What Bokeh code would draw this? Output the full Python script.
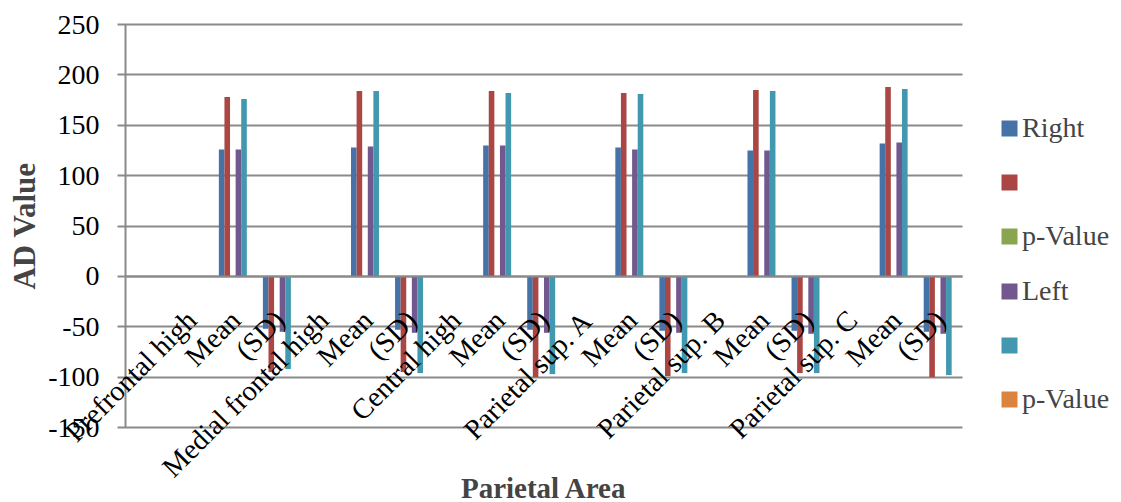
import math
from bokeh.plotting import figure
from bokeh.models import (Range1d, FixedTicker, Legend, LegendItem, Label,
                          ColumnDataSource, NumeralTickFormatter)
from bokeh.embed import file_html
from bokeh.resources import INLINE

# ---- data ----
categories = ["", "Prefrontal high", "Mean", "(SD)",
              "Medial frontal high", "Mean", "(SD)",
              "Central high", "Mean", "(SD)",
              "Parietal sup. A", "Mean", "(SD)",
              "Parietal sup. B", "Mean", "(SD)",
              "Parietal sup. C", "Mean", "(SD)"]
right_vals = [0, 0, 126, -52, 0, 128, -53, 0, 130, -53, 0, 128, -54, 0, 125, -54, 0, 132, -55]
right_sd_vals = [0, 0, 178, -95, 0, 184, -95, 0, 184, -100, 0, 182, -99, 0, 185, -96, 0, 188, -100]
right_p_vals = [0, 0, 0, 0, 0, 0, 0, 0, 0, 0, 0, 0, 0, 0, 0, 0, 0, 0, 0]
left_vals = [0, 0, 126, -55, 0, 129, -56, 0, 130, -56, 0, 126, -56, 0, 125, -57, 0, 133, -57]
left_sd_vals = [0, 0, 176, -92, 0, 184, -96, 0, 182, -97, 0, 181, -96, 0, 184, -96, 0, 186, -98]
left_p_vals = [0, 0, 0, 0, 0, 0, 0, 0, 0, 0, 0, 0, 0, 0, 0, 0, 0, 0, 0]
series_names = ["Right", " ", "p-Value", "Left", " ", "p-Value"]
series_colors = ["#4572A7", "#AA4643", "#89A54E", "#71588F", "#4198AF", "#DB843D"]
y_ticks = [-150, -100, -50, 0, 50, 100, 150, 200, 250]
x_title = "Parietal Area"
y_title = "AD Value"

series = [right_vals, right_sd_vals, right_p_vals, left_vals, left_sd_vals, left_p_vals]

# ---- layout (pixels) ----
W, H = 1121, 502
L, R, T, B = 125, 962, 24, 427          # visible plot area
FONT = "Liberation Serif"
GRID = "#8a8a8a"

ncat = len(categories)
ppc = (R - L) / ncat                      # px per category
ymin, ymax = y_ticks[0], y_ticks[-1]
ppu = (B - T) / (ymax - ymin)             # px per value unit
x_start = -0.5 - L / ppc
x_end = ncat - 0.5 + (W - R) / ppc
y_end = ymax + T / ppu
y_start = ymin - (H - B) / ppu

p = figure(width=W, height=H, output_backend="svg", toolbar_location=None,
           x_range=Range1d(x_start, x_end), y_range=Range1d(y_start, y_end),
           min_border=0, title=None)
p.outline_line_color = None
p.xgrid.visible = False
p.ygrid.visible = False
p.background_fill_color = "white"

bw = 0.127
idx = list(range(ncat))
renderers = []
for k, (vals, col) in enumerate(zip(series, series_colors)):
    off = (k - 2.5) * bw
    src = ColumnDataSource(dict(x=[i + off for i in idx], top=vals))
    r = p.vbar(x="x", top="top", bottom=0, width=bw, source=src,
               fill_color=col, line_color=None)
    renderers.append(r)

# y axis at the left edge of the plot area; long inward ticks act as gridlines
ya = p.yaxis[0]
ya.fixed_location = -0.5
ya.bounds = (ymin, ymax)
ya.level = "underlay"
ya.ticker = FixedTicker(ticks=y_ticks)
ya.formatter = NumeralTickFormatter(format="0")
ya.axis_label = y_title
ya.axis_label_text_font = FONT
ya.axis_label_text_font_style = "bold"
ya.axis_label_text_font_size = "31px"
ya.axis_label_standoff = 3
ya.major_label_text_font = FONT
ya.major_label_text_font_size = "28px"
ya.major_label_text_color = "black"
ya.major_label_standoff = 18
ya.axis_line_color = GRID
ya.axis_line_width = 2
ya.major_tick_line_color = GRID
ya.major_tick_line_width = 2
ya.major_tick_out = 8
ya.major_tick_in = R - L
ya.minor_tick_line_color = None

# category axis at y = 0
xa = p.xaxis[0]
xa.fixed_location = 0
xa.bounds = (-0.5, ncat - 0.5)
xa.ticker = FixedTicker(ticks=idx)
xa.major_label_overrides = {i: c for i, c in zip(idx, categories)}
xa.major_label_orientation = math.pi / 4
xa.major_label_text_font = FONT
xa.major_label_text_font_size = "28.5px"
xa.major_label_text_color = "black"
xa.major_label_standoff = 33
xa.axis_line_color = GRID
xa.axis_line_width = 2
xa.major_tick_line_color = None
xa.minor_tick_line_color = None

# x title centred under the plot area
p.add_layout(Label(x=(ncat - 1) / 2, y=ymax - (487 - T) / ppu, text=x_title,
                   text_align="center", text_baseline="middle",
                   text_font=FONT, text_font_style="bold", text_font_size="29px"))

legend = Legend(items=[LegendItem(label=n, renderers=[r]) for n, r in zip(series_names, renderers)],
                location=(999, 87), orientation="vertical",
                glyph_width=20, glyph_height=20, label_height=30, spacing=23,
                label_text_font=FONT, label_text_font_size="28px",
                label_standoff=3, padding=0, margin=0,
                border_line_color=None, background_fill_alpha=0)
p.add_layout(legend, "center")

open("out.html", "w").write(file_html(p, INLINE))
